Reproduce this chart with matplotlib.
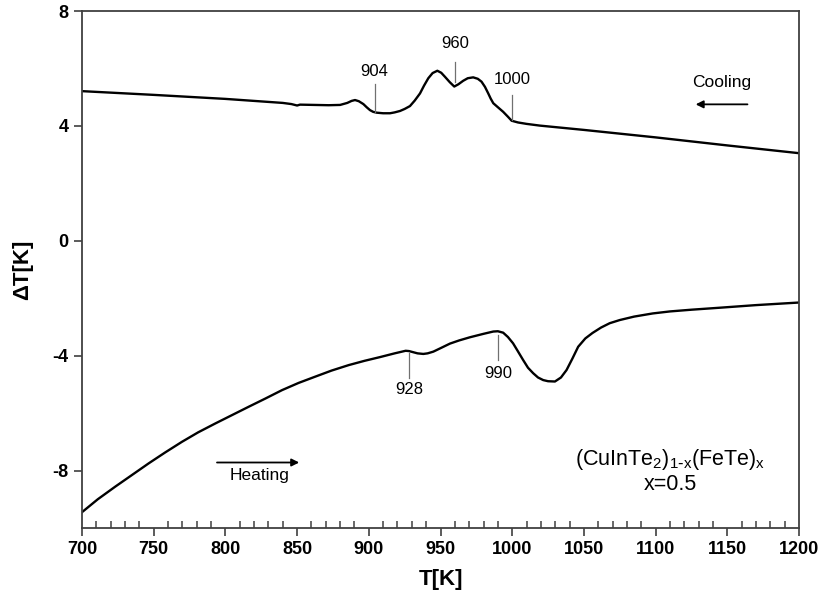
import matplotlib.pyplot as plt
from matplotlib.ticker import MultipleLocator

plt.rcParams['font.family'] = ['Liberation Sans', 'DejaVu Sans']
plt.rcParams['mathtext.default'] = 'regular'
plt.rcParams['axes.unicode_minus'] = False

# chlodzenie (krzywa gorna)
t_cool = [700, 750, 800, 840, 846, 850, 852, 862, 872, 880, 885, 888, 890.4, 893, 896.2,
          898.5, 900.8, 903, 905.5, 910, 914.8, 918, 921.8, 925, 928.7, 932, 935.7, 938.5,
          941.5, 944.5, 947.8, 950.5, 953.1, 956.5, 959.6, 962.5, 965.8, 969, 972.8, 976,
          978.6, 981, 983.3, 985, 986.8, 990, 993.7, 997, 999.6, 1004, 1010, 1019.3,
          1050, 1100, 1150, 1200]
dt_cool = [5.21, 5.08, 4.94, 4.80, 4.76, 4.71, 4.74, 4.73, 4.72, 4.73, 4.80, 4.87, 4.90, 4.86,
           4.76, 4.65, 4.55, 4.49, 4.46, 4.44, 4.44, 4.47, 4.52, 4.59, 4.69, 4.88, 5.13, 5.40,
           5.66, 5.84, 5.92, 5.85, 5.71, 5.52, 5.37, 5.45, 5.57, 5.66, 5.69, 5.64,
           5.54, 5.36, 5.13, 4.95, 4.79, 4.65, 4.49, 4.32, 4.18, 4.12, 4.07, 4.01,
           3.86, 3.60, 3.32, 3.05]

# grzanie (krzywa dolna)
t_heat = [700, 711, 723.2, 735, 746.5, 758, 769.7, 781, 793, 805, 816.2, 828, 839.5, 851,
          862.7, 874, 885.9, 897, 907.8, 918, 925.7,
          928, 931, 934, 938, 941, 945, 950, 956.6, 963, 970.5, 980, 986.8, 990, 993.7,
          997, 1000.6, 1004, 1007.6, 1011, 1014.6, 1018, 1021.6, 1025, 1029.8, 1034,
          1037.9, 1042, 1046, 1051, 1056, 1062, 1068, 1075, 1085, 1098, 1110, 1125,
          1145, 1170, 1200]
dt_heat = [-9.45, -9.00, -8.56, -8.15, -7.75, -7.37, -7.00, -6.67, -6.36, -6.06, -5.78, -5.49,
           -5.20, -4.95, -4.73, -4.52, -4.33, -4.18, -4.05, -3.92, -3.83,
           -3.84, -3.88, -3.92, -3.94, -3.92, -3.86, -3.74, -3.58, -3.47, -3.36, -3.24,
           -3.16, -3.15, -3.20, -3.35, -3.57, -3.85, -4.15, -4.42, -4.61, -4.76, -4.85,
           -4.89, -4.90, -4.76, -4.50, -4.10, -3.69, -3.40, -3.21, -3.02, -2.87, -2.76,
           -2.64, -2.53, -2.46, -2.40, -2.33, -2.24, -2.15]

# opisy pikow: (T, dol kreski, gora kreski, y etykiety)
piki_gora = [(904, 4.47, 5.45, 5.89), (960, 5.54, 6.24, 6.87), (1000, 4.21, 5.08, 5.60)]
piki_dol = [(928, -3.92, -4.79, -5.19), (990, -3.28, -4.15, -4.61)]

fig = plt.figure(figsize=(8.2, 6.05), dpi=100)
ax = fig.add_axes([0.1, 0.1273, 0.8744, 0.8545])

ax.plot(t_cool, dt_cool, color='black', lw=1.7)
ax.plot(t_heat, dt_heat, color='black', lw=1.7)

for t, y0, y1, yl in piki_gora + piki_dol:
    ax.plot([t, t], [y0, y1], color='#707070', lw=0.9)
    ax.text(t, yl, str(t), ha='center', va='center', fontsize=12)

ax.annotate('', xy=(1126, 4.75), xytext=(1166, 4.75),
            arrowprops=dict(arrowstyle='-|>', color='black', lw=1.3, mutation_scale=11))
ax.text(1146, 5.52, 'Cooling', ha='center', va='center', fontsize=12.5)
ax.annotate('', xy=(853.4, -7.72), xytext=(792.2, -7.72),
            arrowprops=dict(arrowstyle='-|>', color='black', lw=1.3, mutation_scale=11))
ax.text(824, -8.18, 'Heating', ha='center', va='center', fontsize=12.5)

ax.text(1110, -7.63, r'(CuInTe$_2$)$_{1\text{-}x}$(FeTe)$_x$', ha='center', va='center',
        fontsize=15.5)
ax.text(1110, -8.50, 'x=0.5', ha='center', va='center', fontsize=15.5)

ax.set_xlim(700, 1200)
ax.set_ylim(-10, 8)
ax.xaxis.set_major_locator(MultipleLocator(50))
ax.xaxis.set_minor_locator(MultipleLocator(10))
ax.set_yticks([-8, -4, 0, 4, 8])
ax.tick_params(axis='both', which='major', direction='out', length=6, width=1.2,
               labelsize=13, color='#404040')
ax.tick_params(axis='x', which='minor', direction='in', length=5, width=1.1, color='#404040')
for lab in ax.get_xticklabels() + ax.get_yticklabels():
    lab.set_fontweight('bold')
for s in ax.spines.values():
    s.set_color('#404040')
    s.set_linewidth(1.3)

ax.set_xlabel('T[K]', fontsize=16, fontweight='bold', labelpad=8)
ax.set_ylabel('ΔT[K]', fontsize=16, fontweight='bold', labelpad=14)

fig.savefig('out.png', dpi=100)
